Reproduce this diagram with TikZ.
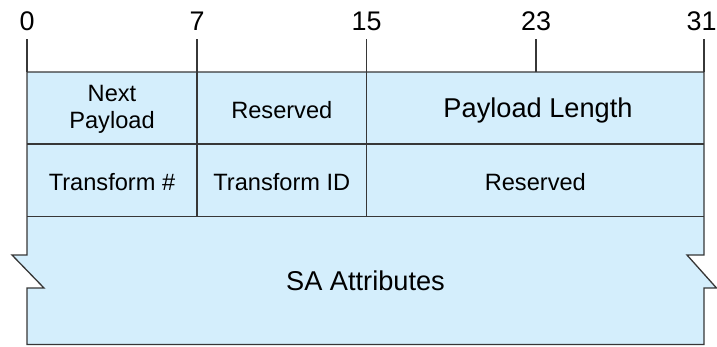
\documentclass[tikz,border=0pt]{standalone}
\usepackage{fontspec}
\setmainfont{Liberation Sans}
\definecolor{cellfill}{RGB}{212,238,252}
\definecolor{edgecol}{RGB}{55,55,55}
\begin{document}
\begin{tikzpicture}[x=1bp,y=-1bp,
  edgeline/.style={draw=edgecol,line width=1.3bp},
  tickline/.style={draw=edgecol,line width=1.2bp},
  bitlabel/.style={inner sep=0pt,font=\fontsize{27}{30}\selectfont},
  celltext/.style={inner sep=0pt,align=center,font=\fontsize{23.7}{27.5}\selectfont},
  bigtext/.style={inner sep=0pt,align=center,font=\fontsize{27.3}{30}\selectfont}]
\useasboundingbox (0,0) rectangle (717,346);
% outer shape with notches
\path[fill=cellfill,edgeline] (27,72) -- (704,72) -- (704,255) -- (687,255) -- (716.5,288) -- (704,288) -- (704,344.5) -- (27,344.5) -- (27,288) -- (44,288) -- (12,255) -- (27,255) -- cycle;
% row and column dividers
\draw[edgeline] (27,144) -- (704,144);
\draw[edgeline] (27,216.5) -- (704,216.5);
\draw[edgeline] (197,72) -- (197,216.5);
\draw[edgeline] (366.7,72) -- (366.7,216.5);
% bit ruler
\foreach \x/\lx/\n in {27/27/0,197/197/7,366.7/366.7/15,536/536/23,704/701.5/31}{
  \node[bitlabel] (b\n) at (\lx,21.5) {\n};
  \coordinate (t\n) at (\x,39);
  \coordinate (e\n) at (\x,72);
  \draw[tickline] (t\n) -- (e\n);
}
% cell texts
\node[celltext] (np) at (112,109.5) {Next\\Payload};
\node[celltext] (r1) at (281.8,110) {Reserved};
\node[bigtext] (pl) at (538,110) {Payload Length};
\node[celltext] (tn) at (112,182) {Transform \#};
\node[celltext] (ti) at (281.8,182) {Transform ID};
\node[celltext] (r2) at (535.3,182) {Reserved};
\node[bigtext] (sa) at (365.5,281) {SA Attributes};
\end{tikzpicture}
\end{document}
